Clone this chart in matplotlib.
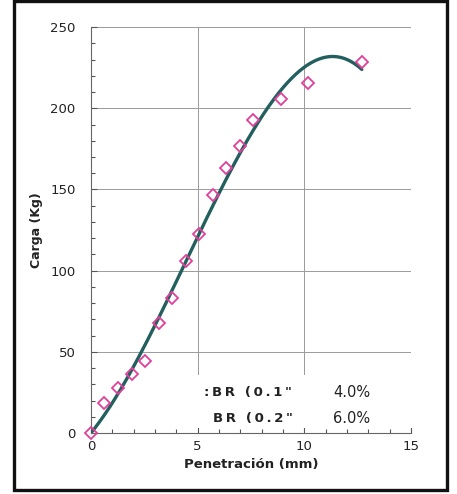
import numpy as np
import matplotlib.pyplot as plt
from matplotlib.patches import Rectangle
from matplotlib.ticker import MultipleLocator

# Penetration readings (mm) and measured load (kg)
penetracion = [0.0, 0.635, 1.27, 1.905, 2.54, 3.175, 3.81, 4.445, 5.08,
               5.715, 6.35, 6.985, 7.62, 8.89, 10.16, 12.7]
carga = [0.0, 18.5, 27.7, 36.3, 44.3, 68.0, 83.0, 106.0, 122.5,
         146.5, 163.0, 176.7, 192.7, 205.6, 215.5, 228.4]

cbr_labels = [':BR (0.1"', 'BR (0.2"']
cbr_values = ['4.0%', '6.0%']

THIN = '\u2009'


def tracked(s):
    """Spread the letters of a label with thin spaces."""
    return THIN.join(s)


fig = plt.figure(figsize=(4.57, 4.94), dpi=100)
ax = fig.add_axes([0.199, 0.1235, 0.700, 0.8215])

# Third-order trend line through the origin, least squares on the readings
xp = np.asarray(penetracion)
yp = np.asarray(carga)
A = np.column_stack([xp, xp**2, xp**3])
c1, c2, c3 = np.linalg.lstsq(A, yp, rcond=None)[0]
xs = np.linspace(0, xp.max(), 200)
ax.plot(xs, c1 * xs + c2 * xs**2 + c3 * xs**3, color='#235f5e', lw=2.4,
        zorder=3, solid_capstyle='round')
ax.plot(xp, yp, linestyle='none', marker='D', ms=6.5,
        mfc='none', mec='#e0409a', mew=1.3, zorder=4, clip_on=False)

ax.set_xlim(0, 15)
ax.set_ylim(0, 250)
ax.xaxis.set_major_locator(MultipleLocator(5))
ax.xaxis.set_minor_locator(MultipleLocator(1))
ax.yaxis.set_major_locator(MultipleLocator(50))
ax.yaxis.set_minor_locator(MultipleLocator(10))
ax.set_axisbelow(True)
ax.grid(True, which='major', color='#9a9a9a', lw=0.7)
ax.tick_params(which='both', direction='in', color='#555555', width=0.8,
               labelsize=9.5, colors='#222222')
ax.tick_params(which='major', length=4)
ax.tick_params(which='minor', length=3)
ax.tick_params(axis='x', which='major', pad=5)
ax.tick_params(axis='y', which='major', pad=11)
for side in ['top', 'right']:
    ax.spines[side].set_visible(False)
for side in ['left', 'bottom']:
    ax.spines[side].set_color('#666666')
    ax.spines[side].set_linewidth(0.8)

ax.set_xlabel('Penetración (mm)', fontsize=9.5, fontweight='bold',
              color='#222222', labelpad=4)
ax.set_ylabel('Carga (Kg)', fontsize=9, fontweight='bold',
              color='#222222', labelpad=5)

# White panel holding the CBR results
ax.add_patch(Rectangle((4.95, 3), 10.6, 33, facecolor='white',
                       edgecolor='none', zorder=1, clip_on=False))
label_x = [5.3, 5.7]
for i, (lab, val) in enumerate(zip(cbr_labels, cbr_values)):
    yv = 25.2 - i * 16
    ax.text(label_x[i], yv, tracked(lab), fontsize=9.5, fontweight='bold',
            ha='left', va='center', color='#222222', zorder=2)
    ax.text(11.35, yv, val, fontsize=10.5, ha='left', va='center',
            color='#222222', zorder=2)

# Outer frame around the whole figure
fig.patches.append(Rectangle((0.031, 0.008), 0.947, 0.989,
                             transform=fig.transFigure, fill=False,
                             edgecolor='#111111', lw=2.4))

fig.savefig('out.png', dpi=100)
